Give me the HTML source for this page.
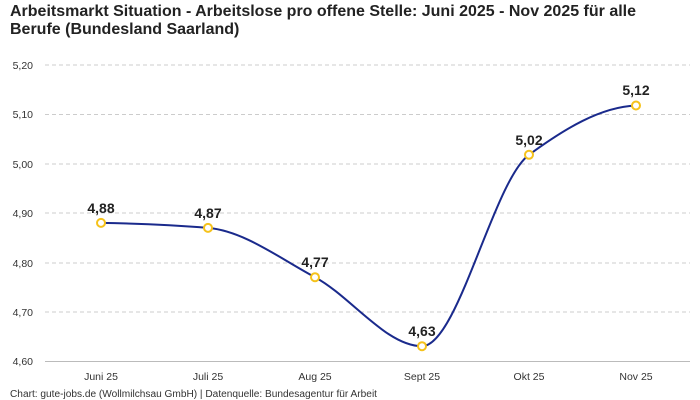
<!DOCTYPE html>
<html><head><meta charset="utf-8"><style>
body{margin:0;background:#fff;}
svg{display:block;font-family:"Liberation Sans",sans-serif;}
</style></head><body>
<svg width="700" height="400" viewBox="0 0 700 400">
<text x="10" y="16" font-size="16" font-weight="bold" fill="#222" textLength="626" lengthAdjust="spacingAndGlyphs">Arbeitsmarkt Situation - Arbeitslose pro offene Stelle: Juni 2025 - Nov 2025 für alle</text>
<text x="10" y="34" font-size="16" font-weight="bold" fill="#222">Berufe (Bundesland Saarland)</text>
<g stroke="#ccc" stroke-dasharray="4,3" stroke-width="1">
<line x1="45" x2="690" y1="65" y2="65"/><line x1="45" x2="690" y1="114.5" y2="114.5"/>
<line x1="45" x2="690" y1="164" y2="164"/><line x1="45" x2="690" y1="213" y2="213"/>
<line x1="45" x2="690" y1="263" y2="263"/><line x1="45" x2="690" y1="312" y2="312"/>
</g>
<line x1="45" x2="690" y1="361.5" y2="361.5" stroke="#bbb"/>
<g font-size="10.5" fill="#333" text-anchor="end">
<text x="33" y="69">5,20</text><text x="33" y="118">5,10</text><text x="33" y="168">5,00</text>
<text x="33" y="217">4,90</text><text x="33" y="267">4,80</text><text x="33" y="316">4,70</text><text x="33" y="365">4,60</text>
</g>
<g font-size="10.5" fill="#333" text-anchor="middle">
<text x="101" y="380">Juni 25</text><text x="208" y="380">Juli 25</text><text x="315" y="380">Aug 25</text>
<text x="422" y="380">Sept 25</text><text x="529" y="380">Okt 25</text><text x="636" y="380">Nov 25</text>
</g>
<path d="M101,222.9 C136.7,223.5 172.3,224.9 208,227.9 C243.7,230.9 279.3,258 315,277.2 C350.7,296.4 386.3,346.2 422,346.2 C457.7,346.2 493.3,181 529,154.8 C564.7,128.7 600.3,107 636,105.5" fill="none" stroke="#1a2a8c" stroke-width="2"/>
<g fill="#fff" stroke="#f5c21b" stroke-width="2">
<circle cx="101" cy="222.9" r="4"/><circle cx="208" cy="227.9" r="4"/><circle cx="315" cy="277.2" r="4"/>
<circle cx="422" cy="346.2" r="4"/><circle cx="529" cy="154.8" r="4"/><circle cx="636" cy="105.5" r="4"/>
</g>
<g font-size="14" font-weight="bold" fill="#222" text-anchor="middle">
<text x="101" y="213">4,88</text><text x="208" y="218">4,87</text><text x="315" y="267">4,77</text>
<text x="422" y="336">4,63</text><text x="529" y="145">5,02</text><text x="636" y="95">5,12</text>
</g>
<text x="10" y="397" font-size="10" fill="#333" textLength="367" lengthAdjust="spacingAndGlyphs">Chart: gute-jobs.de (Wollmilchsau GmbH) | Datenquelle: Bundesagentur für Arbeit</text>
</svg>
</body></html>
